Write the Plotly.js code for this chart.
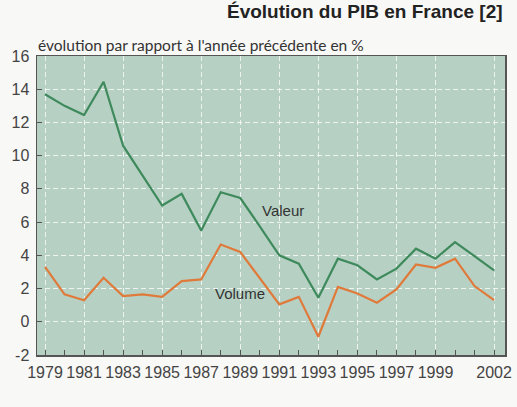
<!DOCTYPE html>
<html><head><meta charset="utf-8">
<script src="https://cdn.plot.ly/plotly-3.0.1.min.js"></script>
<style>html,body{margin:0;padding:0;background:#f8f8f6;}</style>
</head><body><div id="chart" style="width:517px;height:407px;"></div>
<script>
const years = [1979,1980,1981,1982,1983,1984,1985,1986,1987,1988,1989,1990,1991,1992,1993,1994,1995,1996,1997,1998,1999,2000,2001,2002];
const valeur = [13.7,13.0,12.45,14.45,10.6,8.8,7.0,7.7,5.5,7.8,7.45,5.75,4.0,3.5,1.45,3.8,3.4,2.55,3.2,4.4,3.8,4.8,3.95,3.1];
const volume = [3.3,1.65,1.3,2.65,1.55,1.65,1.5,2.45,2.55,4.65,4.2,2.6,1.05,1.5,-0.9,2.1,1.7,1.15,1.95,3.45,3.25,3.8,2.15,1.3];
const xTickVals = [1979,1981,1983,1985,1987,1989,1991,1993,1995,1997,1999,2002];
const xTickText = ["1979","1981","1983","1985","1987","1989","1991","1993","1995","1997","1999","2002"];
const yTickVals = [-2,0,2,4,6,8,10,12,14,16];
const yTickText = ["-2","0","2","4","6","8","10","12","14","16"];
const seriesNames = ["Valeur","Volume"];
const titleText = "évolution par rapport à l'année précédente en %";
const headerText = "Évolution du PIB en France [2]";

const tickFam = "Liberation Sans Narrow, Arial Narrow, Liberation Sans, sans-serif";
const traces = [
  {x: years, y: valeur, mode: 'lines', name: seriesNames[0], line: {color: '#3f8a5c', width: 2.2}, hoverinfo: 'skip'},
  {x: years, y: volume, mode: 'lines', name: seriesNames[1], line: {color: '#e07a3a', width: 2.2}, hoverinfo: 'skip'}
];
const layout = {
  width: 517, height: 407,
  margin: {l: 37, r: 12, t: 56, b: 52},
  paper_bgcolor: '#f8f8f6',
  plot_bgcolor: '#b6d1c4',
  showlegend: false,
  xaxis: {
    range: [1978.59, 2002.56],
    tickvals: xTickVals, ticktext: xTickText,
    ticks: 'inside', ticklen: 5, tickcolor: '#555',
    showgrid: true, gridcolor: 'rgba(255,255,255,0.75)', griddash: '5px,3px', gridwidth: 1,
    minor: {dtick: 1, tick0: 1979, ticks: 'inside', ticklen: 5, tickcolor: '#555', showgrid: false},
    showline: true, linecolor: '#555', linewidth: 1.5, mirror: true,
    zeroline: false, ticklabelstandoff: 2,
    tickfont: {family: tickFam, size: 16, color: '#444'}
  },
  yaxis: {
    range: [-2, 16],
    tickvals: yTickVals, ticktext: yTickText,
    ticks: 'inside', ticklen: 5, tickcolor: '#555',
    showgrid: true, gridcolor: 'rgba(255,255,255,0.75)', griddash: '5px,3px', gridwidth: 1,
    showline: true, linecolor: '#555', linewidth: 1.5, mirror: true,
    zeroline: false, ticklabelstandoff: 3,
    tickfont: {family: tickFam, size: 16, color: '#444'}
  },
  annotations: [
    {text: titleText, xref: 'paper', yref: 'paper', x: 0, xshift: -1, y: 1, yshift: 11, xanchor: 'left', yanchor: 'middle', showarrow: false,
     font: {family: 'Lato, sans-serif', size: 15.5, color: '#333'}},
    {text: seriesNames[0], xref: 'x', yref: 'y', x: 1991.2, y: 6.7, showarrow: false, xanchor: 'center', yanchor: 'middle',
     font: {family: tickFam, size: 15, color: '#333'}},
    {text: seriesNames[1], xref: 'x', yref: 'y', x: 1989.0, y: 1.7, showarrow: false, xanchor: 'center', yanchor: 'middle',
     font: {family: tickFam, size: 15, color: '#333'}},
    {text: '<b>' + headerText + '</b>', xref: 'paper', yref: 'paper', x: 1, xshift: 0, y: 1, yshift: 45, xanchor: 'right', yanchor: 'middle', showarrow: false,
     font: {family: 'Liberation Sans, sans-serif', size: 19, color: '#222'}}
  ]
};
Plotly.newPlot('chart', traces, layout, {displayModeBar: false, staticPlot: true});
</script></body></html>
